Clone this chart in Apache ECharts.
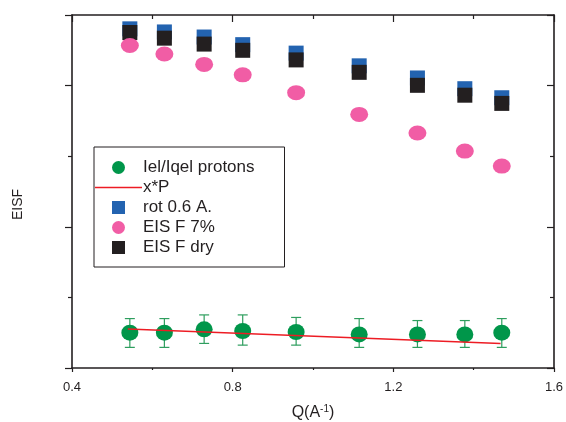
<!DOCTYPE html>
<html>
<head>
<meta charset="utf-8">
<script src="https://cdn.jsdelivr.net/npm/echarts@6/dist/echarts.min.js"></script>
<style>
  html, body { margin: 0; padding: 0; background: #fff; }
  #chart { width: 566px; height: 422px; }
</style>
</head>
<body>
<div id="chart"></div>
<script>
// Q values (A^-1), same for every series
var qValues = [0.544, 0.630, 0.729, 0.825, 0.958, 1.115, 1.260, 1.378, 1.470];

// Iel/Iqel protons + error bar ends
var protons = [0.125, 0.125, 0.137, 0.131, 0.1275, 0.119, 0.119, 0.119, 0.125];
var protonsLow = [0.073, 0.073, 0.087, 0.081, 0.081, 0.073, 0.073, 0.073, 0.073];
var protonsHigh = [0.175, 0.175, 0.188, 0.188, 0.179, 0.175, 0.168, 0.168, 0.175];

// fit line x*P (end points)
var fitQ = [0.539, 1.467];
var fitY = [0.138, 0.087];

var rot06 = [1.201, 1.190, 1.172, 1.145, 1.115, 1.070, 1.027, 0.989, 0.957];
var eisf7 = [1.142, 1.112, 1.075, 1.038, 0.975, 0.898, 0.832, 0.768, 0.715];
var eisfDry = [1.188, 1.168, 1.147, 1.125, 1.091, 1.047, 1.001, 0.966, 0.937];

var xTicks = ['0.4', '0.8', '1.2', '1.6'];

var ink = '#231F20';
var font = '"Liberation Sans", Arial, sans-serif';
var squareIcon = 'path://M0 0H10V10H0Z';
var lineIcon = 'path://M0 0H100V3H0Z';

function pairs(xs, ys) {
  return xs.map(function (x, i) { return [x, ys[i]]; });
}

var chart = echarts.init(document.getElementById('chart'));

var axisLine = { show: true, onZero: false, lineStyle: { color: ink, width: 1.6 } };

chart.setOption({
  animation: false,
  backgroundColor: '#fff',
  textStyle: { fontFamily: font },
  grid: { left: 72, right: 12, top: 15, bottom: 54, containLabel: false, outerBoundsMode: 'none' },
  xAxis: [
    {
      type: 'value', min: 0.4, max: 1.6, interval: 0.4, position: 'bottom',
      axisLine: axisLine,
      axisTick: { show: true, length: 4, lineStyle: { color: ink, width: 1.2 } },
      minorTick: { show: true, splitNumber: 2, length: 2, lineStyle: { color: ink, width: 1.2 } },
      splitLine: { show: false },
      axisLabel: {
        margin: 13, fontSize: 13, color: ink, fontFamily: font,
        formatter: function (v) { return xTicks[Math.round((v - 0.4) / 0.4)]; }
      },
      name: '{b|Q(A}{s|-1}{b|)}',
      nameLocation: 'middle', nameGap: 36,
      nameTextStyle: {
        rich: {
          b: { fontSize: 16, color: ink, fontFamily: font, lineHeight: 18 },
          s: { fontSize: 10, color: ink, fontFamily: font, verticalAlign: 'top', lineHeight: 10 }
        }
      }
    },
    {
      type: 'value', min: 0.4, max: 1.6, interval: 0.4, position: 'top',
      axisLine: axisLine,
      axisTick: { show: true, inside: true, length: 7, lineStyle: { color: ink, width: 1.2 } },
      minorTick: { show: true, splitNumber: 2, length: 4, lineStyle: { color: ink, width: 1.2 } },
      splitLine: { show: false },
      axisLabel: { show: false }
    }
  ],
  yAxis: [
    {
      type: 'value', min: 0, max: 1.25, interval: 0.5, position: 'left',
      axisLine: axisLine,
      axisTick: { show: true, length: 7, lineStyle: { color: ink, width: 1.2 } },
      minorTick: { show: true, splitNumber: 2, length: 4, lineStyle: { color: ink, width: 1.2 } },
      splitLine: { show: false },
      axisLabel: { show: false },
      name: 'EISF', nameLocation: 'middle', nameGap: 47,
      nameTextStyle: { fontSize: 14, color: ink, fontFamily: font, padding: [0, 26, 0, 0] }
    },
    {
      type: 'value', min: 0, max: 1.25, interval: 0.5, position: 'right',
      axisLine: axisLine,
      axisTick: { show: true, inside: true, length: 7, lineStyle: { color: ink, width: 1.2 } },
      minorTick: { show: true, splitNumber: 2, length: 4, lineStyle: { color: ink, width: 1.2 } },
      splitLine: { show: false },
      axisLabel: { show: false }
    }
  ],
  legend: {
    orient: 'vertical', left: 94, top: 147,
    itemWidth: 47, itemHeight: 13, itemGap: 3,
    padding: [12, 30, 11, 1],
    borderColor: ink, borderWidth: 1,
    selectedMode: false,
    symbolKeepAspect: true,
    textStyle: { fontSize: 17, color: ink, fontFamily: font, lineHeight: 16, padding: [0, 0, 0, -4] },
    data: [
      { name: 'Iel/Iqel protons', icon: 'circle' },
      { name: 'x*P', icon: lineIcon },
      { name: 'rot 0.6 A.', icon: squareIcon },
      { name: 'EIS F 7%', icon: 'circle' },
      { name: 'EIS F dry', icon: squareIcon }
    ]
  },
  series: [
    {
      name: 'errors', type: 'custom',
      data: qValues.map(function (q, i) { return [q, protonsLow[i], protonsHigh[i]]; }),
      encode: { x: 0, y: [1, 2] },
      renderItem: function (params, api) {
        var lo = api.coord([api.value(0), api.value(1)]);
        var hi = api.coord([api.value(0), api.value(2)]);
        var w = 5;
        var st = { stroke: '#2E9E5E', lineWidth: 1.2 };
        return {
          type: 'group',
          children: [
            { type: 'line', shape: { x1: lo[0], y1: lo[1], x2: hi[0], y2: hi[1] }, style: st },
            { type: 'line', shape: { x1: lo[0] - w, y1: lo[1], x2: lo[0] + w, y2: lo[1] }, style: st },
            { type: 'line', shape: { x1: hi[0] - w, y1: hi[1], x2: hi[0] + w, y2: hi[1] }, style: st }
          ]
        };
      },
      z: 1
    },
    {
      name: 'Iel/Iqel protons', type: 'scatter',
      data: pairs(qValues, protons),
      symbol: 'circle', symbolSize: [17, 16],
      itemStyle: { color: '#00964A', opacity: 1 },
      z: 2
    },
    {
      name: 'x*P', type: 'line',
      data: pairs(fitQ, fitY),
      symbol: 'none',
      lineStyle: { color: '#ED1C24', width: 1.5 },
      itemStyle: { color: '#ED1C24' },
      z: 3
    },
    {
      name: 'rot 0.6 A.', type: 'scatter',
      data: pairs(qValues, rot06),
      symbol: 'rect', symbolSize: 15,
      itemStyle: { color: '#2363B0', opacity: 1 },
      z: 4
    },
    {
      name: 'EIS F dry', type: 'scatter',
      data: pairs(qValues, eisfDry),
      symbol: 'rect', symbolSize: 15,
      itemStyle: { color: ink, opacity: 1 },
      z: 5
    },
    {
      name: 'EIS F 7%', type: 'scatter',
      data: pairs(qValues, eisf7),
      symbol: 'circle', symbolSize: [18, 15],
      itemStyle: { color: '#F15DA5', opacity: 1 },
      z: 6
    }
  ]
});
</script>
</body>
</html>
